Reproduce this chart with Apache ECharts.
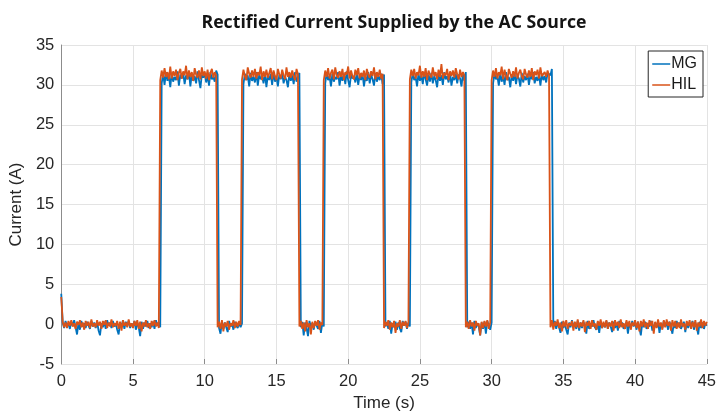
<!DOCTYPE html>
<html>
<head>
<meta charset="utf-8">
<script src="https://cdn.jsdelivr.net/npm/echarts@6/dist/echarts.min.js"></script>
<style>
  html, body { margin: 0; padding: 0; background: #fff; }
  #chart { width: 719px; height: 417px; }
</style>
</head>
<body>
<div id="chart"></div>
<script>
// Sample spacing of the logged current (seconds)
const sampleStep = 0.1;

const xTicks = [0, 5, 10, 15, 20, 25, 30, 35, 40, 45];
const yTicks = [-5, 0, 5, 10, 15, 20, 25, 30, 35];

// Rectified current, MG measurement (A), one value per sample from t = 0 s
const mgCurrent = [
  3.8, 0.2, -0.5, 0.4, -0.3, 0.1, -0.6, 0.3, -0.2, 0.5,
  -0.4, -1.3, 0.2, -0.7, 0.4, -0.3, 0.1, -0.5, 0.3, -0.2,
  -0.6, 0.4, -0.3, 0.2, -0.5, 0.3, -0.8, -1.4, 0.1, -0.4,
  0.3, -0.6, 0.5, -0.2, 0.2, -0.5, 0.4, -0.3, 0.1, -0.7,
  -1.3, 0.2, -0.4, 0.5, -0.6, 0.3, -0.2, 0.4, -0.5, 0.1,
  -0.3, 0.4, -0.7, 0.2, -0.4, -1.5, 0.3, -0.6, 0.2, -0.3,
  0.4, -0.5, 0.1, -0.4, 0.3, -0.6, 0.5, -0.2, 0.2, -0.4,
  30.2, 31.4, 30.0, 31.6, 30.5, 31.2, 29.7, 31.5, 30.4, 31.0,
  30.6, 31.7, 29.9, 31.3, 30.8, 31.5, 30.1, 31.2, 30.7, 31.6,
  29.8, 31.4, 30.5, 31.1, 30.2, 31.7, 30.6, 29.6, 31.3, 30.9,
  31.5, 30.3, 31.2, 29.9, 31.6, 30.7, 31.0, 30.4, 31.8, 31.3,
  -0.5, -1.2, 0.3, -0.6, 0.2, -0.4, -1.0, 0.4, -0.3, 0.1, -0.7, 0.3, -0.2, -0.5, 0.2, -0.4, 0.1,
  30.1, 31.4, 30.6, 31.2, 29.8, 31.5, 30.5, 31.0, 30.3, 31.6,
  29.9, 31.3, 30.7, 31.1, 30.2, 31.5, 29.7, 31.2, 30.6, 31.4,
  30.0, 31.6, 30.4, 31.1, 29.8, 31.3, 30.7, 31.5, 30.2, 31.0,
  30.6, 29.7, 31.4, 30.5, 31.2, 30.1, 31.6, 30.4, 31.0, 31.5,
  -0.4, 0.3, -1.4, 0.2, -0.5, -1.5, 0.4, -0.3, 0.1, -0.7, 0.3, -0.2, -0.6, 0.4, -1.1, 0.2, -0.3,
  30.2, 31.5, 30.6, 31.1, 29.8, 31.4, 30.4, 31.0, 30.7, 31.6,
  29.9, 31.2, 30.5, 31.4, 30.1, 31.7, 30.6, 29.7, 31.3, 30.8,
  31.1, 30.3, 31.5, 30.0, 31.2, 30.6, 31.4, 29.8, 31.0, 30.5,
  31.6, 30.2, 31.3, 30.7, 29.9, 31.5, 30.4, 31.1, 30.6, 31.4, 30.1, 31.3,
  -0.3, 0.2, -0.6, 0.4, -1.2, 0.1, -0.4, 0.3, -0.7, 0.2, -0.5, -1.0, 0.4, -0.2, 0.3, -0.6, 0.2, -0.3,
  30.3, 31.5, 30.6, 31.0, 29.8, 31.4, 30.5, 31.2, 30.1, 31.6,
  30.7, 29.9, 31.3, 30.4, 31.5, 30.2, 31.1, 30.6, 29.7, 31.4,
  30.5, 31.2, 30.0, 31.6, 30.7, 31.1, 30.3, 31.5, 29.9, 31.0,
  30.6, 31.4, 30.2, 31.3, 30.8, 29.8, 31.5, 30.5, 31.6,
  -0.4, 0.3, -0.6, 0.2, -1.3, 0.4, -0.5, 0.1, -0.3, -1.4, 0.2, -0.6, 0.3, -1.2, 0.4, -0.2, -0.7, 0.2,
  30.2, 31.4, 30.7, 31.1, 29.9, 31.5, 30.4, 31.2, 30.0, 31.6,
  30.6, 31.0, 29.7, 31.3, 30.5, 31.4, 30.1, 31.2, 30.8, 29.8,
  31.5, 30.3, 31.1, 30.6, 31.4, 30.0, 31.2, 30.7, 31.6, 30.2,
  31.0, 30.5, 31.3, 29.9, 31.4, 30.6, 31.1, 30.3, 31.5, 31.7, 31.2, 32.0,
  -0.3, 0.4, -0.6, 0.2, -0.4, -1.1, 0.3, -0.5, 0.1, -0.7,
  -1.3, 0.2, -0.4, 0.5, -0.3, 0.1, -0.6, 0.4, -0.8, 0.2,
  -0.5, 0.3, -0.2, -1.2, 0.4, -0.6, 0.1, -0.3, 0.5, -0.4,
  -0.7, 0.2, -1.1, 0.3, -0.5, 0.1, -0.4, 0.4, -0.6, 0.2,
  -0.3, -1.0, 0.3, -0.5, 0.1, -0.8, 0.4, -0.3, 0.2, -0.6,
  -0.4, 0.3, -1.2, 0.1, -0.5, 0.4, -0.3, 0.2, -0.7, 0.3,
  -0.5, -1.4, 0.2, -0.4, 0.3, -0.6, 0.1, -0.3, 0.4, -0.8,
  -0.6, 0.2, -0.4, 0.3, -1.1, 0.1, -0.5, 0.4, -0.3, 0.2,
  -0.7, 0.3, -0.4, -1.2, 0.1, -0.5, 0.4, -0.3, 0.2, -0.6,
  -0.4, 0.3, -1.0, 0.2, -0.5, 0.1, -0.3, 0.4, -0.7, 0.2,
  -0.4, -1.3, 0.3, -0.5, 0.2, -0.6, 0.1, -0.2
];

// Rectified current, HIL simulation (A), one value per sample from t = 0 s
const hilCurrent = [
  3.4, 0.3, -0.4, 0.2, -0.5, 0.4, -0.2, 0.5, -0.3, 0.1,
  -0.6, 0.3, -0.1, 0.5, -0.4, 0.2, -0.7, 0.4, -0.2, 0.3,
  -0.5, 0.6, -0.3, 0.1, -0.4, 0.5, -0.2, 0.3, -0.6, 0.4,
  -0.1, 0.5, -0.5, 0.2, -0.3, 0.6, -0.4, 0.1, -0.2, 0.4,
  -0.6, 0.3, -0.8, 0.5, -0.2, 0.2, -0.4, 0.6, -0.3, 0.1,
  -0.5, 0.4, -0.2, 0.5, -0.6, 0.3, -0.9, 0.2, -0.3, 0.5,
  -0.4, 0.1, -0.6, 0.4, -0.2, 0.5, -0.3, 0.2, -0.5,
  30.6, 31.8, 30.9, 32.1, 31.0, 31.6, 30.7, 32.3, 30.8, 31.7, 31.1,
  31.9, 30.6, 31.5, 32.0, 30.8, 31.7, 31.2, 32.4, 30.7, 31.8,
  31.0, 31.6, 30.5, 32.1, 31.3, 30.9, 31.8, 30.7, 32.2, 31.1,
  31.7, 30.8, 31.9, 30.6, 31.5, 32.0, 30.9, 31.6, 31.2,
  -0.4, 0.3, -0.6, 0.5, -0.9, 0.2, -0.3, 0.4, -0.7, 0.1, -0.2, 0.5, -0.5, 0.3, -0.3, 0.4, -0.1,
  30.7, 31.9, 31.1, 30.6, 32.2, 31.4, 30.9, 31.8, 31.0, 32.0,
  30.8, 31.6, 31.2, 32.3, 30.6, 31.7, 31.0, 31.9, 30.9, 31.5,
  32.1, 30.7, 31.8, 31.1, 30.6, 32.0, 31.3, 30.8, 31.9, 31.2,
  30.7, 32.2, 31.0, 31.6, 30.9, 31.8, 31.1, 30.6, 32.0, 31.3,
  -0.3, 0.4, -0.6, 0.2, -0.9, 0.5, -0.4, 0.1, -1.3, 0.3, -0.5, 0.4, -0.2, 0.5, -0.7, 0.2, -0.1,
  30.6, 31.8, 31.0, 32.1, 30.8, 31.5, 31.9, 30.7, 32.2, 31.2,
  30.9, 31.7, 31.0, 32.0, 30.6, 31.6, 31.3, 32.3, 30.8, 31.8,
  31.1, 30.7, 31.9, 31.2, 32.1, 30.8, 31.5, 31.0, 31.8, 30.6,
  32.0, 31.3, 30.9, 31.7, 31.1, 32.2, 30.7, 31.6, 31.0, 31.9, 30.8, 31.4,
  -0.5, 0.3, -0.2, 0.5, -0.7, 0.2, -0.4, 0.4, -1.1, 0.1, -0.3, 0.5, -0.6, 0.3, -0.2, 0.4, -0.5, 0.2,
  30.7, 31.9, 31.1, 32.0, 30.8, 31.6, 31.2, 32.4, 30.9, 31.7,
  31.0, 32.1, 30.6, 31.8, 31.3, 30.9, 32.2, 31.1, 31.6, 30.7,
  31.9, 31.0, 32.6, 30.8, 31.5, 31.2, 32.0, 30.6, 31.7, 31.1,
  31.8, 30.9, 32.1, 31.3, 30.7, 31.9, 31.0, 31.6, 31.2,
  -0.4, 0.3, -0.6, 0.5, -0.3, 0.2, -0.8, 0.4, -0.2, 0.1, -1.4, 0.3, -0.5, 0.4, -0.3, 0.5, -0.6, 0.2,
  30.6, 31.8, 31.0, 32.1, 30.8, 31.6, 31.2, 32.3, 30.7, 31.9,
  31.1, 30.6, 32.0, 31.4, 30.9, 31.7, 31.0, 32.2, 30.8, 31.5,
  31.9, 31.1, 30.7, 32.0, 31.3, 30.9, 31.8, 31.0, 32.1, 30.6,
  31.7, 31.2, 31.9, 30.8, 32.2, 31.1, 30.9, 31.6, 31.0, 31.8, 31.2,
  -0.4, 0.5, -0.7, 0.3, -0.2, 0.6, -0.5, 0.2, -0.9, 0.4,
  -0.3, 0.5, -0.6, 0.1, -0.2, 0.4, -0.8, 0.3, -0.4, 0.6,
  -0.5, 0.2, -0.3, 0.5, -1.0, 0.3, -0.2, 0.4, -0.6, 0.5,
  -0.3, 0.1, -0.7, 0.4, -0.2, 0.6, -0.5, 0.3, -0.4, 0.5,
  -0.6, 0.2, -0.3, 0.4, -0.8, 0.5, -0.2, 0.3, -0.5, 0.6,
  -0.4, 0.1, -0.6, 0.5, -0.3, 0.4, -0.7, 0.2, -0.2, 0.5,
  -0.5, 0.3, -0.9, 0.4, -0.3, 0.6, -0.4, 0.2, -0.6, 0.5,
  -0.2, 0.4, -1.2, 0.3, -0.5, 0.6, -0.3, 0.2, -0.7, 0.5,
  -0.4, 0.6, -0.2, 0.3, -0.8, 0.5, -0.3, 0.4, -0.6, 0.2,
  -0.5, 0.6, -0.3, 0.1, -0.7, 0.4, -0.2, 0.5, -0.6, 0.3,
  -0.4, 0.5, -0.8, 0.2, -0.3, 0.6, -0.5, 0.4, -0.2, 0.3
];

const withTime = (values) =>
  values.map((v, i) => [Math.round(i * sampleStep * 10) / 10, v]);

const axisTextColor = '#262626';
const gridColor = '#e3e3e3';

const chart = echarts.init(document.getElementById('chart'), null, { renderer: 'canvas' });

chart.setOption({
  animation: false,
  backgroundColor: '#ffffff',
  title: {
    text: 'Rectified Current Supplied by the AC Source',
    left: 389,
    top: 9,
    textAlign: 'center',
    textStyle: {
      fontFamily: 'Open Sans',
      fontWeight: 'bold',
      fontSize: 17.7,
      color: '#141414'
    }
  },
  legend: {
    orient: 'vertical',
    right: 16,
    top: 51,
    padding: [5, 6, 4, 4],
    itemGap: 5,
    itemWidth: 18,
    itemHeight: 1.5,
    icon: 'rect',
    backgroundColor: '#ffffff',
    borderColor: '#262626',
    borderWidth: 1,
    borderRadius: 0,
    textStyle: {
      fontFamily: 'Liberation Sans',
      fontSize: 16,
      color: '#1a1a1a',
      padding: [0, 0, 0, -4]
    },
    data: ['MG', 'HIL']
  },
  grid: {
    left: 60,
    right: 9,
    top: 45,
    bottom: 52,
    containLabel: false
  },
  xAxis: {
    type: 'value',
    min: xTicks[0],
    max: xTicks[xTicks.length - 1],
    interval: 5,
    name: 'Time (s)',
    nameLocation: 'middle',
    nameGap: 31,
    nameTextStyle: { fontFamily: 'Liberation Sans', fontSize: 17, color: axisTextColor },
    axisLine: { show: false, onZero: false },
    axisTick: { show: true, inside: true, length: 5, lineStyle: { color: '#8c8c8c' } },
    axisLabel: {
      margin: 9,
      fontFamily: 'Liberation Sans',
      fontSize: 16.5,
      color: axisTextColor
    },
    splitLine: { show: true, lineStyle: { color: gridColor, width: 1 } }
  },
  yAxis: {
    type: 'value',
    min: yTicks[0],
    max: yTicks[yTicks.length - 1],
    interval: 5,
    name: 'Current (A)',
    nameLocation: 'middle',
    nameGap: 27,
    nameTextStyle: { fontFamily: 'Liberation Sans', fontSize: 17, color: axisTextColor },
    axisLine: { show: true, onZero: false, lineStyle: { color: '#8c8c8c', width: 1 } },
    axisTick: { show: false },
    axisLabel: {
      margin: 7,
      padding: [4, 0, 0, 0],
      fontFamily: 'Liberation Sans',
      fontSize: 16.5,
      color: axisTextColor
    },
    splitLine: { show: true, lineStyle: { color: gridColor, width: 1 } }
  },
  series: [
    {
      name: 'MG',
      type: 'line',
      data: withTime(mgCurrent),
      showSymbol: false,
      symbol: 'none',
      sampling: false,
      lineStyle: { color: '#0072BD', width: 1.8 },
      itemStyle: { color: '#0072BD' },
      z: 2
    },
    {
      name: 'HIL',
      type: 'line',
      data: withTime(hilCurrent),
      showSymbol: false,
      symbol: 'none',
      sampling: false,
      lineStyle: { color: '#D95319', width: 1.8 },
      itemStyle: { color: '#D95319' },
      z: 3
    }
  ]
});
</script>
</body>
</html>
